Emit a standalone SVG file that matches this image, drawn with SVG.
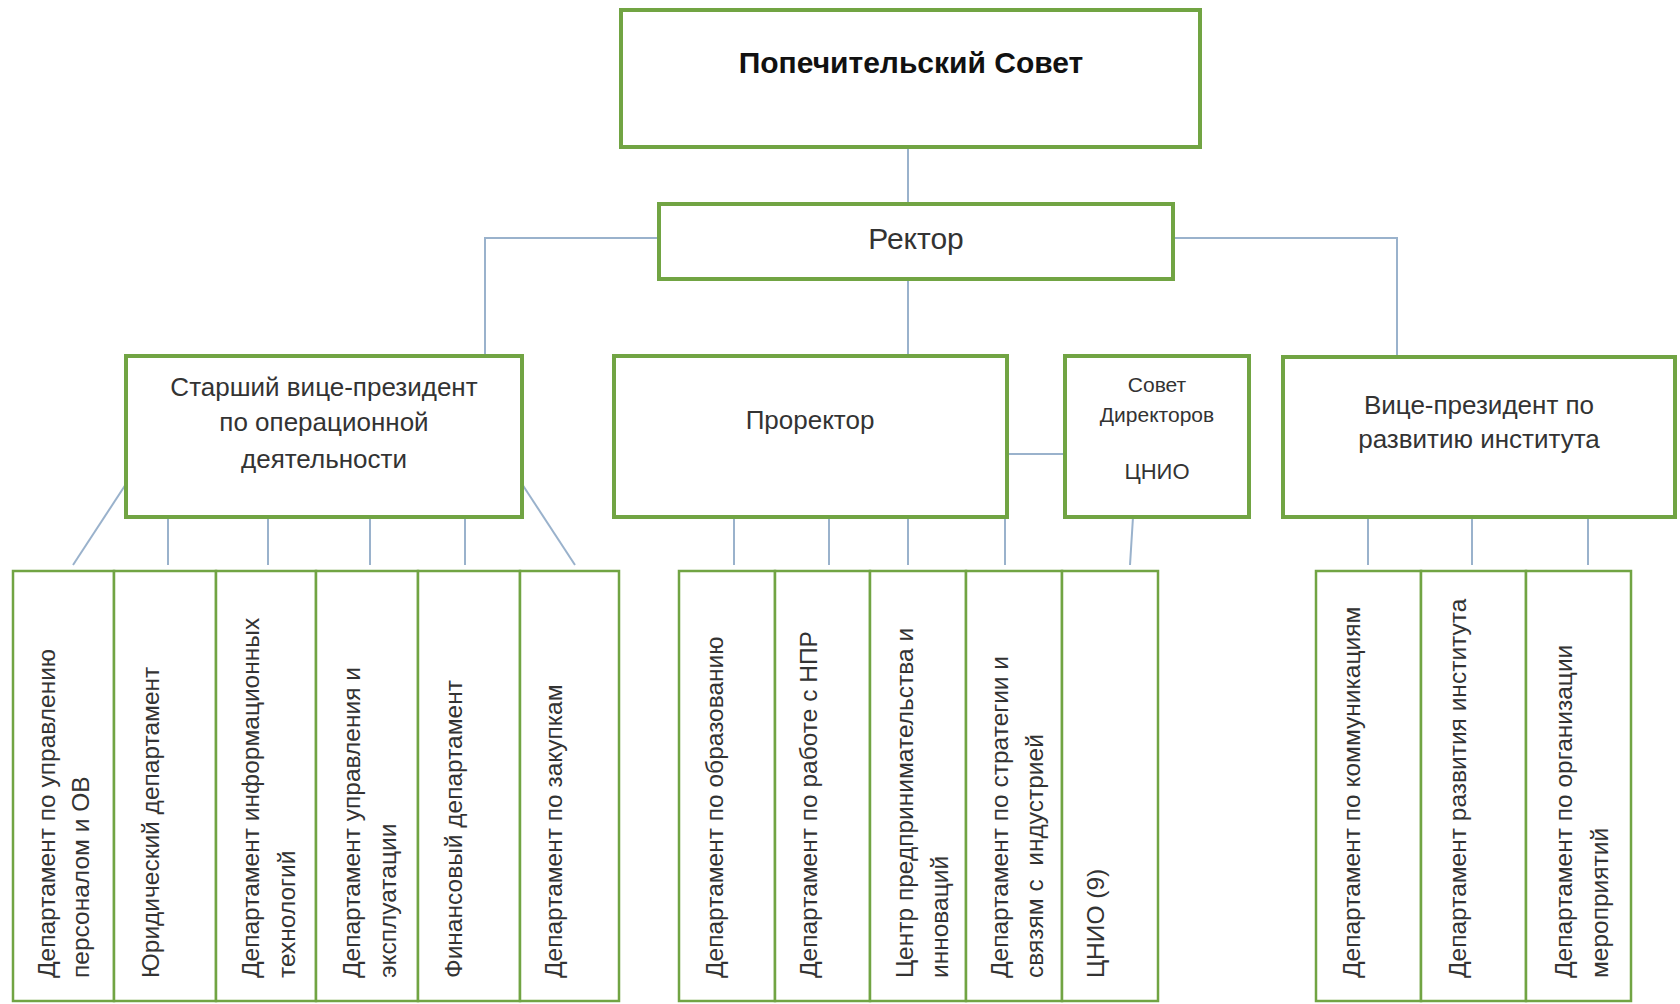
<svg xmlns="http://www.w3.org/2000/svg" width="1680" height="1004" viewBox="0 0 1680 1004">
<style>
.box{fill:#fff;stroke:#71a443;stroke-width:4}
.sub{fill:#fff;stroke:#71a443;stroke-width:2.5}
.t{font-family:"Liberation Sans",Arial,sans-serif;fill:#333;text-anchor:middle;dominant-baseline:central}
.title{font-family:"Liberation Sans",Arial,sans-serif;fill:#111;font-weight:bold;font-size:30px;text-anchor:middle;dominant-baseline:central}
.v{font-family:"Liberation Sans",Arial,sans-serif;fill:#333;font-size:24.5px;text-anchor:start;dominant-baseline:central}
.c{fill:none;stroke:#9ab2cc;stroke-width:2}
</style>
<rect width="1680" height="1004" fill="#fff"/>
<g id="connectors">
<line class="c" x1="908" y1="147" x2="908" y2="204"/>
<polyline class="c" points="659,238 485,238 485,356"/>
<polyline class="c" points="1173,238 1397,238 1397,356"/>
<line class="c" x1="908" y1="279" x2="908" y2="356"/>
<line class="c" x1="1007" y1="454" x2="1065" y2="454"/>
<line class="c" x1="126" y1="484" x2="73" y2="565"/>
<line class="c" x1="168" y1="517" x2="168" y2="565"/>
<line class="c" x1="268" y1="517" x2="268" y2="565"/>
<line class="c" x1="370" y1="517" x2="370" y2="565"/>
<line class="c" x1="465" y1="517" x2="465" y2="565"/>
<line class="c" x1="522" y1="484" x2="575" y2="565"/>
<line class="c" x1="734" y1="517" x2="734" y2="565"/>
<line class="c" x1="829" y1="517" x2="829" y2="565"/>
<line class="c" x1="908" y1="517" x2="908" y2="565"/>
<line class="c" x1="1005" y1="517" x2="1005" y2="565"/>
<line class="c" x1="1133" y1="517" x2="1130" y2="565"/>
<line class="c" x1="1368" y1="517" x2="1368" y2="565"/>
<line class="c" x1="1472" y1="517" x2="1472" y2="565"/>
<line class="c" x1="1588" y1="517" x2="1588" y2="565"/>
</g>
<g id="board">
<rect class="box" x="621" y="10" width="579" height="137"/>
<text class="title" x="911" y="62">Попечительский Совет</text>
</g>
<g id="rector">
<rect class="box" x="659" y="204" width="514" height="75"/>
<text class="t" x="916" y="238" font-size="30">Ректор</text>
</g>
<g id="svp">
<rect class="box" x="126" y="356" width="396" height="161"/>
<text class="t" x="324" y="387" font-size="26">Старший вице-президент</text>
<text class="t" x="324" y="422" font-size="26">по операционной</text>
<text class="t" x="324" y="459" font-size="26">деятельности</text>
</g>
<g id="prorector">
<rect class="box" x="614" y="356" width="393" height="161"/>
<text class="t" x="810" y="420" font-size="26">Проректор</text>
</g>
<g id="board-directors">
<rect class="box" x="1065" y="356" width="184" height="161"/>
<text class="t" x="1157" y="384" font-size="21">Совет</text>
<text class="t" x="1157" y="414" font-size="21">Директоров</text>
<text class="t" x="1157" y="471" font-size="22">ЦНИО</text>
</g>
<g id="vp">
<rect class="box" x="1283" y="357" width="392" height="160"/>
<text class="t" x="1479" y="405" font-size="26">Вице-президент по</text>
<text class="t" x="1479" y="439" font-size="26">развитию института</text>
</g>
<g id="d1"><rect class="sub" x="13" y="571" width="101" height="430"/>
<text class="v" transform="translate(46,978) rotate(-90)">Департамент по управлению</text>
<text class="v" transform="translate(80,978) rotate(-90)">персоналом и ОВ</text></g>
<g id="d2"><rect class="sub" x="114" y="571" width="102" height="430"/>
<text class="v" transform="translate(150,978) rotate(-90)">Юридический департамент</text></g>
<g id="d3"><rect class="sub" x="216" y="571" width="100" height="430"/>
<text class="v" transform="translate(250,978) rotate(-90)">Департамент информационных</text>
<text class="v" transform="translate(286,978) rotate(-90)">технологий</text></g>
<g id="d4"><rect class="sub" x="316" y="571" width="102" height="430"/>
<text class="v" transform="translate(351,978) rotate(-90)">Департамент управления и</text>
<text class="v" transform="translate(387,978) rotate(-90)">эксплуатации</text></g>
<g id="d5"><rect class="sub" x="418" y="571" width="102" height="430"/>
<text class="v" transform="translate(453,978) rotate(-90)">Финансовый департамент</text></g>
<g id="d6"><rect class="sub" x="520" y="571" width="99" height="430"/>
<text class="v" transform="translate(553,978) rotate(-90)">Департамент по закупкам</text></g>
<g id="m1"><rect class="sub" x="679" y="571" width="96" height="430"/>
<text class="v" transform="translate(714,978) rotate(-90)">Департамент по образованию</text></g>
<g id="m2"><rect class="sub" x="775" y="571" width="95" height="430"/>
<text class="v" transform="translate(808,978) rotate(-90)">Департамент по работе с НПР</text></g>
<g id="m3"><rect class="sub" x="870" y="571" width="96" height="430"/>
<text class="v" transform="translate(904,978) rotate(-90)">Центр предпринимательства и</text>
<text class="v" transform="translate(939,978) rotate(-90)">инноваций</text></g>
<g id="m4"><rect class="sub" x="966" y="571" width="96" height="430"/>
<text class="v" transform="translate(999,978) rotate(-90)">Департамент по стратегии и</text>
<text class="v" xml:space="preserve" transform="translate(1034,978) rotate(-90)">связям с  индустрией</text></g>
<g id="m5"><rect class="sub" x="1062" y="571" width="96" height="430"/>
<text class="v" transform="translate(1095,978) rotate(-90)">ЦНИО (9)</text></g>
<g id="r1"><rect class="sub" x="1316" y="571" width="105" height="430"/>
<text class="v" transform="translate(1351,978) rotate(-90)">Департамент по коммуникациям</text></g>
<g id="r2"><rect class="sub" x="1421" y="571" width="105" height="430"/>
<text class="v" transform="translate(1457,978) rotate(-90)">Департамент развития института</text></g>
<g id="r3"><rect class="sub" x="1526" y="571" width="105" height="430"/>
<text class="v" transform="translate(1563,978) rotate(-90)">Департамент по организации</text>
<text class="v" transform="translate(1599,978) rotate(-90)">мероприятий</text></g>
</svg>
